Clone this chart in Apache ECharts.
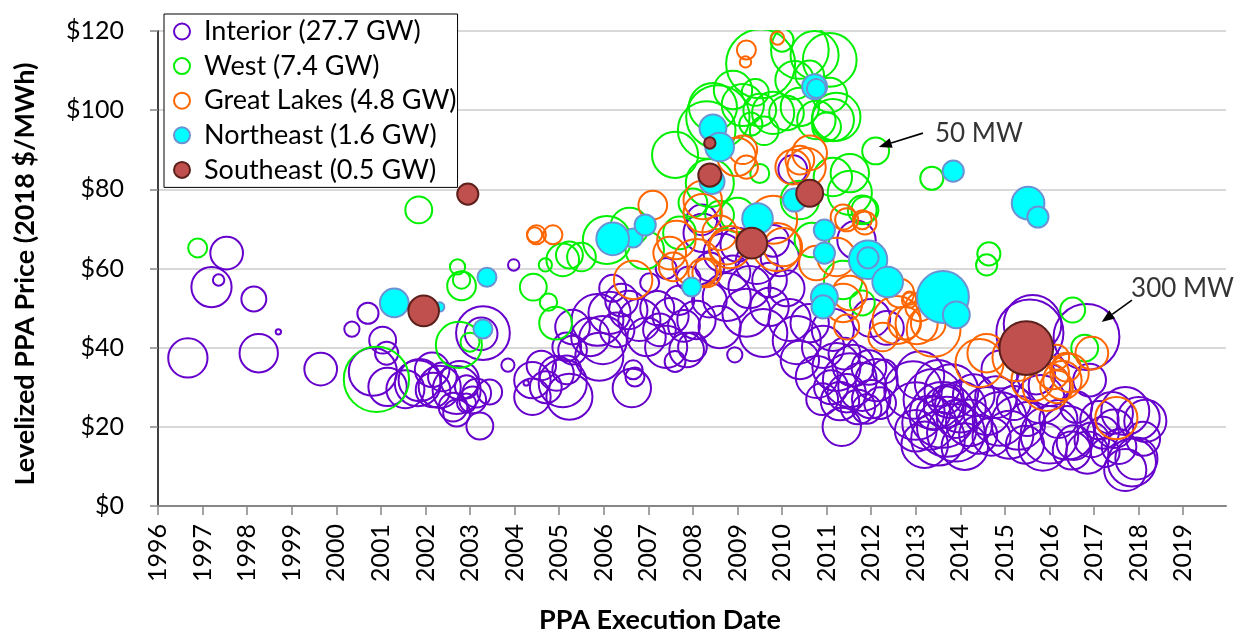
<!DOCTYPE html>
<html>
<head>
<meta charset="utf-8">
<script src="https://cdn.jsdelivr.net/npm/echarts@6/dist/echarts.min.js"></script>
<style>
  html, body { margin: 0; padding: 0; background: #fff; }
  #chart { width: 1234px; height: 631px; }
</style>
</head>
<body>
<div id="chart"></div>
<script>
// Each bubble: [execution date (decimal year), levelized price ($/MWh), capacity (MW)]
const interior = [
  [1996.67, 37.4, 107], [1997.2, 55.3, 112], [1997.36, 57.1, 9], [1997.54, 63.9, 74],
  [1998.15, 52.3, 43], [1998.26, 38.6, 102], [1998.7, 44.0, 2], [1999.65, 34.6, 74],
  [2000.35, 44.7, 16], [2000.71, 48.7, 31],
  [2000.82, 33.9, 160], [2001.04, 41.9, 50], [2001.13, 38.6, 37], [2001.15, 30.1, 102],
  [2001.55, 29.5, 100], [2001.83, 31.0, 147], [2001.87, 31.8, 123], [2002.15, 34.4, 83],
  [2002.17, 29.3, 83], [2002.32, 30.1, 123], [2002.38, 32.6, 57], [2002.7, 29.3, 160],
  [2002.77, 31.8, 102], [2002.62, 25.0, 57], [2002.7, 23.5, 50], [2002.92, 30.1, 37],
  [2002.92, 26.0, 25], [2003.06, 26.8, 50], [2003.15, 28.5, 57], [2003.44, 28.8, 43],
  [2003.22, 20.2, 50], [2003.29, 43.7, 200], [2003.25, 43.5, 74], [2003.85, 35.6, 12],
  [2003.98, 60.9, 9],
  [2004.26, 31.1, 2], [2004.4, 31.8, 92], [2004.4, 27.6, 92], [2004.6, 35.5, 60],
  [2004.7, 30.0, 70], [2004.94, 33.5, 83], [2005.08, 31.0, 160], [2005.23, 27.6, 147],
  [2005.17, 34.4, 57], [2005.17, 40.2, 57], [2005.3, 45.2, 83], [2005.3, 39.4, 57],
  [2005.7, 42.7, 102], [2005.86, 47.0, 186], [2005.9, 37.7, 160], [2005.98, 41.9, 160],
  [2006.13, 48.8, 123], [2006.2, 55.0, 50], [2006.3, 44.5, 83], [2006.4, 52.0, 74],
  [2006.55, 49.5, 102], [2006.66, 34.4, 25], [2006.7, 32.6, 25], [2006.63, 29.8, 102],
  [2006.8, 47.0, 123], [2006.96, 42.7, 102], [2007.03, 56.4, 25],
  [2007.2, 50.0, 80], [2007.25, 44.5, 74], [2007.4, 40.2, 123], [2007.4, 60.0, 30],
  [2007.5, 48.0, 90], [2007.6, 36.5, 30], [2007.7, 52.0, 60], [2007.8, 45.5, 70],
  [2007.86, 39.4, 83], [2007.9, 57.5, 40], [2007.99, 40.2, 57], [2008.08, 47.0, 102],
  [2008.2, 72.3, 65], [2008.22, 69.0, 102], [2008.37, 52.0, 83], [2008.38, 60.4, 57],
  [2008.6, 45.2, 123], [2008.67, 63.9, 102], [2008.76, 52.8, 160], [2008.9, 58.9, 83],
  [2008.94, 38.2, 16], [2009.0, 66.0, 80], [2009.2, 48.8, 160], [2009.27, 55.3, 123],
  [2009.43, 61.4, 123], [2009.58, 43.7, 160], [2009.72, 57.1, 83], [2009.72, 50.3, 102],
  [2009.8, 67.0, 70], [2009.95, 62.9, 102], [2010.1, 55.0, 90], [2010.17, 47.0, 123],
  [2010.24, 85.0, 57], [2010.33, 41.9, 160],
  [2010.4, 36.9, 102], [2010.62, 46.2, 102], [2010.78, 32.6, 123], [2010.9, 27.0, 70],
  [2010.92, 40.2, 123], [2011.1, 30.0, 80], [2011.14, 44.5, 123], [2011.22, 35.1, 160],
  [2011.3, 26.5, 102], [2011.34, 20.0, 102], [2011.4, 38.5, 70], [2011.45, 28.5, 102],
  [2011.52, 31.8, 200], [2011.6, 35.5, 120], [2011.67, 67.2, 102], [2011.7, 25.0, 83],
  [2011.8, 30.1, 160], [2011.9, 24.5, 60], [2011.95, 35.0, 83], [2012.0, 27.0, 102],
  [2012.0, 47.5, 100], [2012.12, 31.8, 123], [2012.2, 26.0, 70], [2012.3, 34.0, 40],
  [2012.35, 45.0, 80],
  [2012.94, 29.3, 230], [2013.0, 24.0, 230], [2013.0, 19.0, 120], [2013.1, 33.0, 160],
  [2013.2, 15.5, 150], [2013.3, 21.0, 200], [2013.4, 27.0, 250], [2013.4, 23.5, 80],
  [2013.5, 17.0, 200], [2013.5, 31.0, 150], [2013.6, 23.0, 300], [2013.65, 25.0, 120],
  [2013.7, 20.0, 250], [2013.7, 27.0, 60], [2013.8, 29.0, 200], [2013.9, 18.5, 230],
  [2013.9, 22.0, 100], [2014.0, 25.0, 180], [2014.1, 15.0, 150], [2014.2, 21.0, 150],
  [2014.3, 28.0, 120], [2014.4, 18.0, 100],
  [2014.6, 24.0, 160], [2014.7, 17.5, 100], [2014.8, 27.5, 120], [2014.88, 22.0, 200],
  [2014.9, 34.5, 100], [2015.1, 18.0, 160], [2015.2, 26.0, 80], [2015.3, 21.0, 200],
  [2015.45, 15.5, 100],
  [2015.5, 22.0, 80], [2015.56, 43.7, 312], [2015.62, 46.0, 230], [2015.7, 33.0, 100],
  [2015.8, 27.0, 160], [2015.85, 15.0, 160], [2016.0, 18.0, 230], [2016.0, 30.5, 120],
  [2016.2, 22.0, 100], [2016.4, 18.5, 200], [2016.5, 14.0, 100], [2016.6, 25.0, 70],
  [2016.55, 16.0, 83], [2016.83, 42.7, 300], [2016.9, 31.8, 74], [2016.85, 13.5, 123],
  [2016.95, 16.7, 83], [2017.12, 21.7, 102], [2017.2, 18.5, 70], [2017.25, 13.5, 57],
  [2017.4, 23.5, 123], [2017.45, 19.5, 102], [2017.56, 15.0, 83], [2017.7, 24.0, 160],
  [2017.7, 9.1, 123], [2017.85, 11.0, 160], [2017.95, 12.0, 123], [2018.0, 22.2, 123],
  [2018.1, 17.0, 80], [2018.15, 21.5, 123]
];

const west = [
  [1996.89, 65.2, 25], [2000.9, 32.0, 295], [2001.85, 74.8, 50], [2002.72, 60.4, 16],
  [2002.81, 57.1, 21], [2002.81, 55.6, 57], [2002.75, 40.7, 147], [2003.0, 41.4, 25],
  [2004.42, 55.3, 50], [2004.69, 60.9, 12], [2004.76, 51.5, 21], [2004.92, 46.2, 74],
  [2005.08, 62.2, 74], [2005.23, 63.4, 50], [2005.5, 62.9, 57], [2006.07, 67.2, 160],
  [2006.58, 70.5, 102], [2006.92, 64.7, 102], [2007.6, 88.7, 147], [2007.7, 69.0, 74],
  [2008.0, 76.6, 57], [2008.38, 81.6, 160], [2008.31, 95.0, 230], [2008.45, 100.8, 160],
  [2008.56, 98.3, 278], [2008.6, 73.5, 57], [2008.9, 105.1, 102], [2009.0, 73.5, 83],
  [2009.12, 101.3, 123], [2009.3, 96.5, 37], [2009.4, 104.5, 50], [2009.5, 100.0, 74],
  [2009.5, 84.0, 25], [2009.52, 111.7, 330], [2009.6, 94.8, 57], [2009.8, 99.3, 123],
  [2010.0, 117.7, 37], [2010.1, 99.3, 83], [2010.28, 107.6, 102], [2010.4, 115.2, 230],
  [2010.4, 100.8, 102], [2010.4, 77.3, 102], [2010.62, 108.9, 57], [2010.67, 67.2, 83],
  [2010.73, 113.9, 160], [2010.77, 97.5, 102], [2011.0, 95.8, 57], [2011.07, 112.7, 200],
  [2011.07, 103.8, 83], [2011.14, 97.5, 123], [2011.14, 83.1, 102], [2011.22, 98.3, 160],
  [2011.37, 57.1, 102], [2011.52, 84.1, 102], [2011.52, 79.1, 135], [2011.8, 74.8, 57],
  [2011.8, 51.3, 43], [2011.86, 74.8, 50], [2012.1, 89.7, 50], [2013.36, 82.8, 37],
  [2014.59, 60.9, 31], [2014.64, 63.7, 37], [2016.52, 49.5, 43], [2016.79, 39.9, 50]
];

const greatLakes = [
  [2004.45, 68.5, 16], [2004.49, 68.5, 25], [2004.86, 68.5, 25], [2006.66, 57.1, 102],
  [2007.1, 76.0, 57], [2007.48, 63.9, 74], [2007.56, 60.4, 57], [2007.63, 67.2, 102],
  [2008.08, 61.4, 160], [2008.22, 77.3, 102], [2008.22, 74.0, 102], [2008.22, 58.9, 57],
  [2008.31, 58.9, 57], [2008.6, 69.0, 83], [2008.76, 65.4, 83], [2008.83, 65.4, 123],
  [2008.98, 88.2, 102], [2009.12, 90.0, 57], [2009.2, 85.6, 37], [2009.2, 115.2, 25],
  [2009.18, 112.2, 9], [2009.8, 72.3, 160], [2009.88, 65.4, 160], [2009.9, 118.2, 12],
  [2010.02, 65.4, 102], [2010.24, 85.6, 83], [2010.4, 87.4, 57], [2010.55, 85.6, 102],
  [2010.62, 89.2, 83], [2010.77, 61.4, 83], [2011.22, 62.9, 102], [2011.37, 73.0, 43],
  [2011.45, 72.3, 37], [2011.8, 72.3, 25], [2011.86, 71.5, 37], [2011.37, 51.3, 102],
  [2011.45, 45.2, 43], [2011.52, 53.8, 83], [2012.26, 42.7, 57], [2012.57, 47.0, 160],
  [2012.64, 53.8, 57], [2012.75, 46.2, 74], [2012.86, 52.0, 16], [2012.86, 52.5, 12],
  [2013.02, 46.2, 123], [2013.09, 50.3, 57], [2013.28, 46.2, 83], [2013.4, 44.5, 200],
  [2014.43, 36.1, 160], [2014.59, 38.6, 102], [2015.26, 37.6, 160], [2015.62, 31.8, 123],
  [2015.94, 30.1, 160], [2016.07, 33.6, 74], [2016.16, 37.6, 43], [2016.16, 30.1, 74],
  [2016.29, 31.8, 102], [2016.38, 35.1, 57], [2016.45, 33.6, 102], [2016.95, 38.6, 74],
  [2017.5, 22.2, 123]
];

const northeast = [
  [2001.3, 51.3, 57], [2002.32, 50.3, 6], [2003.29, 44.7, 25], [2003.38, 57.8, 25],
  [2006.66, 67.7, 25], [2006.2, 67.5, 74], [2006.93, 71.0, 31], [2007.97, 55.3, 25],
  [2008.43, 82.0, 43], [2008.45, 95.5, 50], [2008.6, 90.7, 57], [2009.45, 72.6, 65],
  [2010.28, 77.3, 37], [2010.73, 105.9, 43], [2010.77, 105.5, 25], [2010.95, 69.7, 31],
  [2010.95, 63.9, 31], [2010.95, 52.8, 50], [2010.92, 50.3, 37], [2011.93, 62.2, 102],
  [2011.93, 62.7, 31], [2012.37, 56.6, 65], [2013.61, 52.8, 186], [2013.84, 84.6, 31],
  [2013.91, 48.3, 50], [2015.52, 76.5, 74], [2015.74, 73.0, 31]
];

const southeast = [
  [2001.96, 49.3, 65], [2002.95, 78.8, 31], [2008.38, 91.7, 9], [2008.38, 83.6, 37],
  [2009.32, 66.4, 66], [2010.62, 79.0, 50], [2015.48, 39.9, 200]
];

const regionNames = [
  'Interior (27.7 GW)', 'West (7.4 GW)', 'Great Lakes (4.8 GW)',
  'Northeast (1.6 GW)', 'Southeast (0.5 GW)'
];
const yearTicks = [1996, 1997, 1998, 1999, 2000, 2001, 2002, 2003, 2004, 2005, 2006, 2007,
  2008, 2009, 2010, 2011, 2012, 2013, 2014, 2015, 2016, 2017, 2018, 2019];

// Size callouts: label text, text anchor, arrow start and arrow tip (data units)
const calloutText = ['50 MW', '300 MW'];
const calloutAt = [[2013.43, 94.2], [2017.83, 54.8]];
const calloutFrom = [[2013.16, 94.2], [2017.85, 52.0]];
const calloutTo = [[2012.17, 90.7], [2017.17, 46.5]];

const FONT = 'Lato, "Liberation Sans", sans-serif';
const SIZE_K = 3.8; // bubble diameter per sqrt(MW): area proportional to capacity

const styles = [
  { color: 'rgba(0,0,0,0)', borderColor: '#6600cc', borderWidth: 2, opacity: 1 },
  { color: 'rgba(0,0,0,0)', borderColor: '#00f000', borderWidth: 2, opacity: 1 },
  { color: 'rgba(0,0,0,0)', borderColor: '#ff6600', borderWidth: 2, opacity: 1 },
  { color: '#00ffff', borderColor: '#6a92d4', borderWidth: 2, opacity: 1 },
  { color: '#c0504d', borderColor: '#5c201c', borderWidth: 2, opacity: 1 }
];
const groups = [interior, west, greatLakes, northeast, southeast];

const series = groups.map((data, i) => ({
  name: regionNames[i],
  type: 'scatter',
  data: data,
  symbol: 'circle',
  symbolSize: d => SIZE_K * Math.sqrt(d[2]),
  itemStyle: styles[i],
  emphasis: { disabled: true },
  silent: true,
  clip: false,
  z: 2
}));

series.push({
  name: 'callouts',
  type: 'scatter',
  symbolSize: 0,
  silent: true,
  z: 5,
  data: calloutText.map((t, i) => ({ name: t, value: calloutAt[i] })),
  label: {
    show: true, position: [0, 0], align: 'left', verticalAlign: 'middle',
    formatter: '{b}', fontFamily: FONT, fontSize: 26, color: '#000'
  }
});

const baseGraphic = [
  // masks bubble parts rising above the $120 plot edge
  { type: 'rect', z: 10, silent: true, shape: { x: 159, y: 0, width: 1075, height: 30 }, style: { fill: '#fff' } },
  {
    type: 'text', x: 25, y: 274, rotation: Math.PI / 2, z: 10,
    style: { text: 'Levelized PPA Price (2018 $/MWh)', font: 'bold 27px ' + FONT, fill: '#000', align: 'center', verticalAlign: 'middle' }
  },
  {
    type: 'text', x: 660, y: 620, z: 10,
    style: { text: 'PPA Execution Date', font: 'bold 27px ' + FONT, fill: '#000', align: 'center', verticalAlign: 'middle' }
  }
];

const chart = echarts.init(document.getElementById('chart'), null, { renderer: 'canvas' });
chart.setOption({
  animation: false,
  backgroundColor: '#fff',
  grid: { left: 158, right: 8, top: 31, bottom: 125, containLabel: false, outerBoundsMode: 'none' },
  legend: {
    left: 164, top: 14, orient: 'vertical',
    itemWidth: 34, itemHeight: 16, itemGap: 7.6,
    padding: [4, 1, 4, 9],
    borderColor: '#000', borderWidth: 1, backgroundColor: '#fff',
    selectedMode: false, z: 20,
    textStyle: { fontFamily: FONT, fontSize: 27, color: '#000', lineHeight: 27 },
    data: regionNames.map((n, i) => ({ name: n, icon: 'circle', itemStyle: styles[i] }))
  },
  xAxis: {
    type: 'value', min: 1996, max: 2019.96, interval: 1,
    axisLine: { show: true, onZero: false, lineStyle: { color: '#868686', width: 2 } },
    axisTick: { show: true, customValues: yearTicks, length: 9, lineStyle: { color: '#868686', width: 1.5 } },
    axisLabel: {
      customValues: yearTicks, rotate: 90, margin: 18,
      fontFamily: FONT, fontSize: 25, color: '#000',
      formatter: v => String(v)
    },
    splitLine: { show: false }
  },
  yAxis: {
    type: 'value', min: 0, max: 120, interval: 20,
    axisLine: { show: true, lineStyle: { color: '#000', width: 1.5 } },
    axisTick: { show: true, length: 8, lineStyle: { color: '#868686', width: 1.5 } },
    axisLabel: { margin: 34, fontFamily: FONT, fontSize: 25, color: '#000', formatter: v => '$' + v },
    splitLine: { show: true, lineStyle: { color: '#d9d9d9', width: 2 } }
  },
  graphic: baseGraphic,
  series: series
});

// Callout arrows: shaft plus a filled head at the tip, placed through the grid's own scales
const arrowGraphic = [];
calloutFrom.forEach((from, i) => {
  const p0 = chart.convertToPixel({ gridIndex: 0 }, from);
  const p1 = chart.convertToPixel({ gridIndex: 0 }, calloutTo[i]);
  const ang = Math.atan2(p1[1] - p0[1], p1[0] - p0[0]);
  const headLen = 13, headHalf = 5;
  const bx = p1[0] - headLen * Math.cos(ang), by = p1[1] - headLen * Math.sin(ang);
  const nx = -Math.sin(ang) * headHalf, ny = Math.cos(ang) * headHalf;
  arrowGraphic.push({
    type: 'line', z: 12, silent: true,
    shape: { x1: p0[0], y1: p0[1], x2: bx, y2: by },
    style: { stroke: '#000', lineWidth: 1.6 }
  });
  arrowGraphic.push({
    type: 'polygon', z: 12, silent: true,
    shape: { points: [[p1[0], p1[1]], [bx + nx, by + ny], [bx - nx, by - ny]] },
    style: { fill: '#000' }
  });
});
chart.setOption({ graphic: baseGraphic.concat(arrowGraphic) });
</script>
</body>
</html>
